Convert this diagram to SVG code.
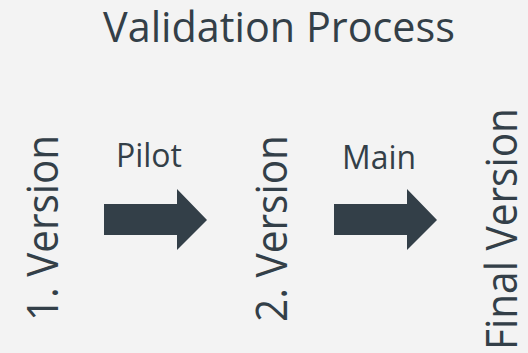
<svg xmlns="http://www.w3.org/2000/svg" width="528" height="353" viewBox="0 0 528 353">
  <style>
    .t { font-family: "Open Sans", "Noto Sans", sans-serif; fill: #333f48; }
    .title { font-size: 42px; }
    .ver { font-size: 43px; }
    .lbl { font-size: 33px; }
    .arrow { fill: #333f48; }
  </style>
  <rect width="528" height="353" fill="#f3f3f3"/>
  <text class="t title" x="103" y="42" textLength="352" lengthAdjust="spacingAndGlyphs">Validation Process</text>

  <g id="v1">
    <text class="t ver" transform="translate(58,321) rotate(-90)" textLength="186" lengthAdjust="spacingAndGlyphs">1. Version</text>
  </g>
  <g id="v2">
    <text class="t ver" transform="translate(287,322) rotate(-90)" textLength="187" lengthAdjust="spacingAndGlyphs">2. Version</text>
  </g>
  <g id="vfinal">
    <text class="t ver" transform="translate(517,350) rotate(-90)" textLength="242" lengthAdjust="spacingAndGlyphs">Final Version</text>
  </g>

  <g id="connectors">
    <g id="pilot">
      <polygon class="arrow" points="104,204 177,204 177,189 207,220 177,250 177,235 104,235"/>
      <text class="t lbl" x="116" y="167" textLength="66" lengthAdjust="spacingAndGlyphs">Pilot</text>
    </g>
    <g id="main">
      <polygon class="arrow" points="334,204 407,204 407,189 437,220 407,250 407,235 334,235"/>
      <text class="t lbl" x="342" y="169" textLength="74" lengthAdjust="spacingAndGlyphs">Main</text>
    </g>
  </g>
</svg>
